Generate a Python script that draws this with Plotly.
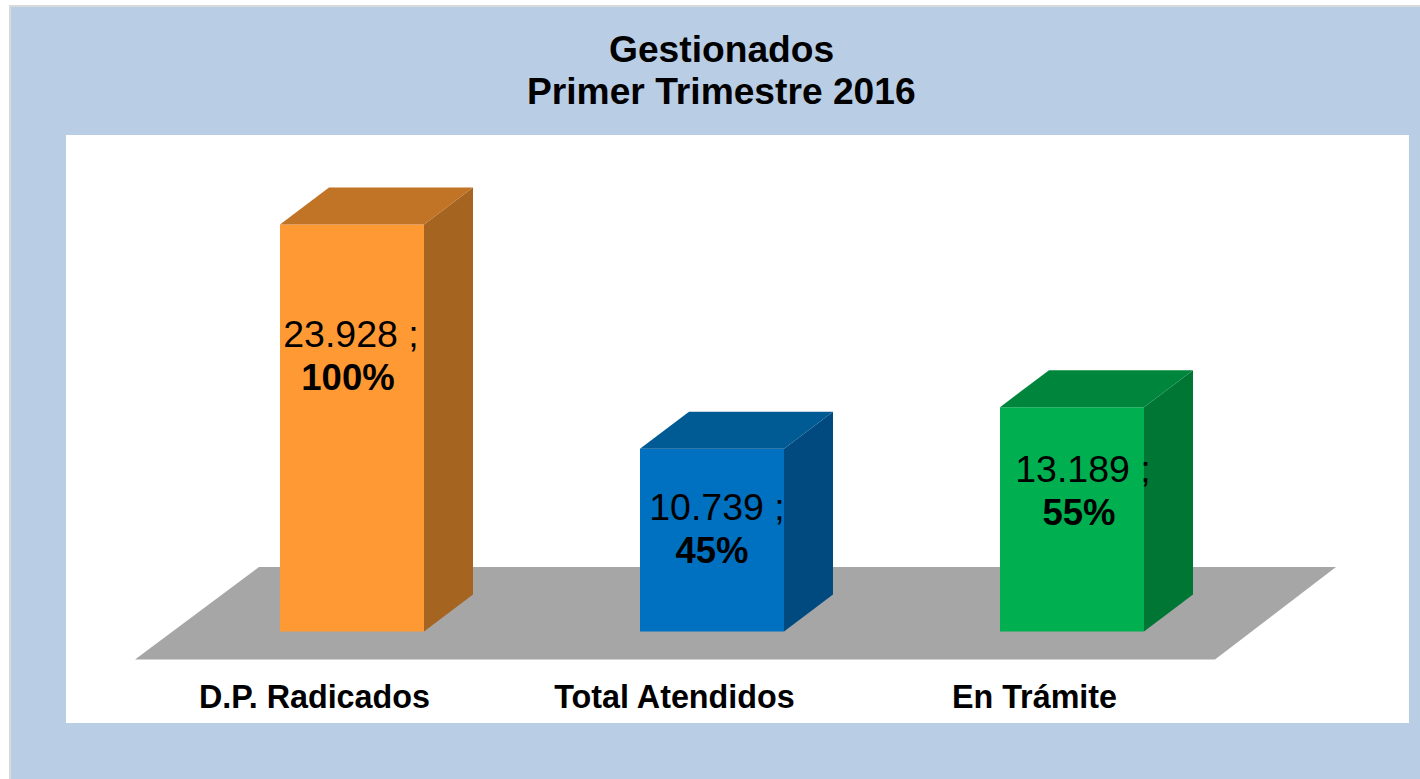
import plotly.graph_objects as go

# --- data ---
categories = ["D.P. Radicados", "Total Atendidos", "En Trámite"]
values = [23928, 10739, 13189]
value_labels = ["23.928 ;", "10.739 ;", "13.189 ;"]
pct_labels = ["100%", "45%", "55%"]
title_lines = ["Gestionados", "Primer Trimestre 2016"]

# --- styles ---
front_colors = ["#FF9933", "#0070C0", "#00B050"]
side_colors = ["#A5641F", "#004A80", "#007635"]
top_colors = ["#C17326", "#005A94", "#00863C"]
FLOOR = "#A6A6A6"
PANEL = "#B9CDE5"
FONT = "Liberation Sans, Arial, sans-serif"

# --- geometry: pixel frame of the plot and scale of its axes ---
W, H = 1420, 779
L, R, T, B = 66, 1409, 135, 723
X0_PX, X_SCALE = 352.0, 360.0      # px of category 0, px per category
Y0_PX, Y_SCALE = 631.5, 407 / 23928  # px of value 0, px per unit
BAR_W = 0.4
xr = [(L - X0_PX) / X_SCALE, (R - X0_PX) / X_SCALE]
yr = [(Y0_PX - B) / Y_SCALE, (Y0_PX - T) / Y_SCALE]
DX, DY = 49 / X_SCALE, 37 / Y_SCALE   # bar depth in axis units
xs = list(range(len(categories)))

fig = go.Figure()


def poly(px, py, color):
    fig.add_trace(go.Scatter(x=px, y=py, mode="lines", fill="toself", fillcolor=color,
                             line=dict(width=0, color=color), hoverinfo="skip", showlegend=False))


# floor, drawn under the bars
fl, fr = (135 - X0_PX) / X_SCALE, (1215 - X0_PX) / X_SCALE
fy0, fy1 = (Y0_PX - 659.5) / Y_SCALE, (Y0_PX - 567) / Y_SCALE
fbl, fbr = (259 - X0_PX) / X_SCALE, (1336 - X0_PX) / X_SCALE
floor_path = f"M {fl} {fy0} L {fr} {fy0} L {fbr} {fy1} L {fbl} {fy1} Z"

# bar fronts
fig.add_trace(go.Bar(x=xs, y=values, width=BAR_W, marker=dict(color=front_colors, line=dict(width=0)),
                     showlegend=False, hoverinfo="skip"))

# bar side and top faces, derived from the values
for x, v, sc, tc in zip(xs, values, side_colors, top_colors):
    xl, xr_ = x - BAR_W / 2, x + BAR_W / 2
    poly([xr_, xr_ + DX, xr_ + DX, xr_, xr_], [0, DY, v + DY, v, 0], sc)
    poly([xl, xr_, xr_ + DX, xl + DX, xl], [v, v, v + DY, v + DY, v], tc)

# data labels (offsets from the bar centre, px)
label_dx_val = [-1, 5, 11]
label_dx_pct = [-4, 0, 7]
label_y_px = [337.5, 510.5, 472.5]
LINE_GAP = 43


def text_trace(tx, ty, text, size, bold=False):
    fig.add_trace(go.Scatter(x=tx, y=ty, mode="text", text=[f"<b>{t}</b>" if bold else t for t in text],
                             textposition="middle center",
                             textfont=dict(family=FONT, size=size, color="#000000"),
                             hoverinfo="skip", showlegend=False, cliponaxis=False))


text_trace([x + d / X_SCALE for x, d in zip(xs, label_dx_val)],
           [(Y0_PX - p) / Y_SCALE for p in label_y_px], value_labels, 37.5)
text_trace([x + d / X_SCALE for x, d in zip(xs, label_dx_pct)],
           [(Y0_PX - p - LINE_GAP) / Y_SCALE for p in label_y_px], pct_labels, 36.5, True)

# category labels, centred under the floor
text_trace([x - 37.5 / X_SCALE for x in xs], [(Y0_PX - 700) / Y_SCALE] * 3, categories, 32.3, True)

title_y_px = [49, 91]
fig.update_layout(
    width=W, height=H, autosize=False,
    margin=dict(l=0, r=0, t=0, b=0),
    paper_bgcolor=PANEL, plot_bgcolor="#FFFFFF",
    showlegend=False,
    xaxis=dict(domain=[L / W, R / W], range=xr, visible=False, fixedrange=True),
    yaxis=dict(domain=[1 - B / H, 1 - T / H], range=yr, visible=False, fixedrange=True),
    annotations=[dict(text=f"<b>{t}</b>", xref="paper", yref="paper", x=721.5 / W, y=1 - p / H,
                      xanchor="center", yanchor="middle", showarrow=False,
                      font=dict(family=FONT, size=37.2, color="#000000"))
                 for t, p in zip(title_lines, title_y_px)],
    shapes=[
        dict(type="path", path=floor_path, xref="x", yref="y", layer="below",
             fillcolor=FLOOR, line=dict(width=0)),
        # white page margin and grey frame around the panel
        dict(type="rect", xref="paper", yref="paper", x0=0, x1=9 / W, y0=0, y1=1,
             fillcolor="#FFFFFF", line=dict(width=0)),
        dict(type="rect", xref="paper", yref="paper", x0=0, x1=1, y0=1 - 5 / H, y1=1,
             fillcolor="#FFFFFF", line=dict(width=0)),
        dict(type="rect", xref="paper", yref="paper", x0=9 / W, x1=11 / W, y0=0, y1=1 - 5 / H,
             fillcolor="#D9D9D9", line=dict(width=0)),
        dict(type="rect", xref="paper", yref="paper", x0=9 / W, x1=1, y0=1 - 7 / H, y1=1 - 5 / H,
             fillcolor="#D9D9D9", line=dict(width=0)),
    ],
)
fig.write_html("out.html", config={"displayModeBar": False},
               post_script="document.body.style.margin='0';document.body.style.overflow='hidden';")
